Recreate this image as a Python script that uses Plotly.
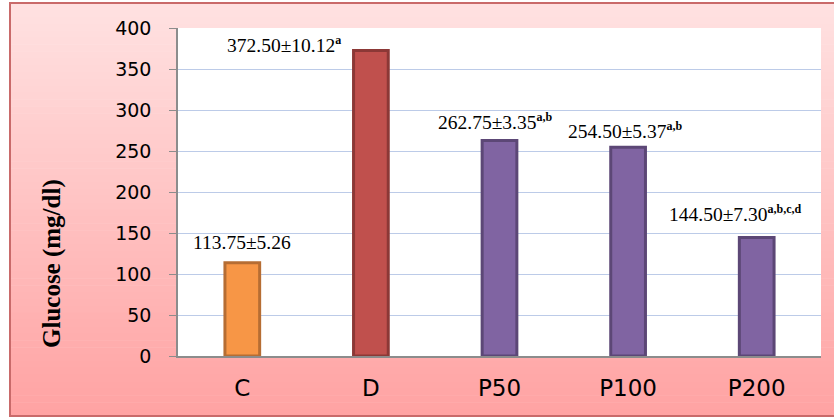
import plotly.graph_objects as go

categories = ["C", "D", "P50", "P100", "P200"]
glucose = [113.75, 372.50, 262.75, 254.50, 144.50]
sem = ["5.26", "10.12", "3.35", "5.37", "7.30"]
sig = ["", "a", "a,b", "a,b", "a,b,c,d"]
fill_colors = ["#f79646", "#c0504d", "#8064a2", "#8064a2", "#8064a2"]
line_colors = ["#b66d33", "#8c3836", "#5c4776", "#5c4776", "#5c4776"]
y_ticks = [0, 50, 100, 150, 200, 250, 300, 350, 400]

W, H = 834, 419
L, R, T, B = 178, 13, 28, 63
pw, ph = W - L - R, H - T - B

def px(x):
    return (x - L) / pw

def py(y):
    return (H - B - y) / ph

fig = go.Figure()
fig.add_trace(go.Bar(
    x=categories, y=glucose,
    marker=dict(color=fill_colors, line=dict(color=line_colors, width=3)),
    width=0.27,
))

shapes = []
# gradient background bands
n = 60
x0, x1 = px(10), px(837)
ytop, ybot = 3, 416
c_top = (255, 226, 226)
c_bot = (255, 162, 162)
for i in range(n):
    ya = ytop + (ybot - ytop) * i / n
    yb = ytop + (ybot - ytop) * (i + 1) / n + 0.5
    t = (i + 0.5) / n
    col = tuple(round(c_top[k] + (c_bot[k] - c_top[k]) * t) for k in range(3))
    shapes.append(dict(type="rect", xref="paper", yref="paper", x0=x0, x1=x1,
                       y0=py(yb), y1=py(ya), fillcolor="rgb(%d,%d,%d)" % col,
                       line=dict(width=0), layer="below"))
shapes.append(dict(type="rect", xref="paper", yref="paper", x0=0, x1=1, y0=0, y1=1,
                   fillcolor="white", line=dict(width=0), layer="below"))
shapes.append(dict(type="rect", xref="paper", yref="paper", x0=x0, x1=x1,
                   y0=py(ybot), y1=py(ytop), fillcolor="rgba(0,0,0,0)",
                   line=dict(color="#c96a6a", width=2), layer="above"))

annotations = []
xshift = [0, -87, -5, -3, -22]
yshift = [20, 6, 19, 17, 24]
for i, c in enumerate(categories):
    txt = "%.2f±%s" % (glucose[i], sem[i])
    if sig[i]:
        txt += "<sup><b><span style='font-size:12px'>%s</span></b></sup>" % sig[i]
    annotations.append(dict(x=c, y=glucose[i], xref="x", yref="y", text=txt,
                            showarrow=False, xshift=xshift[i], yshift=yshift[i],
                            xanchor="center", yanchor="middle",
                            font=dict(family="Liberation Serif", size=19.5, color="black")))
annotations.append(dict(x=px(52), y=py(264), xref="paper", yref="paper",
                        xanchor="center", yanchor="middle",
                        text="<b>Glucose (mg/dl)</b>", textangle=-90, showarrow=False,
                        font=dict(family="Liberation Serif", size=25, color="black")))

fig.update_layout(
    width=W, height=H,
    margin=dict(l=L, r=R, t=T, b=B, pad=0),
    paper_bgcolor="white", plot_bgcolor="rgba(0,0,0,0)",
    showlegend=False,
    shapes=shapes, annotations=annotations,
    xaxis=dict(showline=True, linecolor="#8c8c8c", linewidth=1.5, ticks="",
               tickfont=dict(family="DejaVu Sans", size=23, color="black"),
               showgrid=False, automargin=False, ticklabelstandoff=11),
    yaxis=dict(range=[0, 400], tickvals=y_ticks, showline=True, linecolor="#8c8c8c",
               linewidth=1.5, ticks="outside", ticklen=7, tickcolor="#8c8c8c",
               gridcolor="#bccbe8", gridwidth=1.2, zeroline=False, automargin=False,
               tickfont=dict(family="DejaVu Sans", size=19, color="black"),
               ticklabelstandoff=14),
)
fig.write_html("out.html", config={"displayModeBar": False},
               post_script="document.body.style.margin='0';document.body.style.padding='0';")
